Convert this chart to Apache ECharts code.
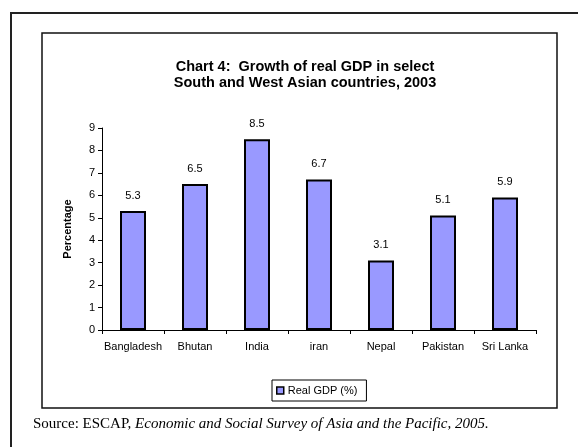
<!DOCTYPE html>
<html>
<head>
<meta charset="utf-8">
<script src="https://cdn.jsdelivr.net/npm/echarts@6/dist/echarts.min.js"></script>
<style>
html,body{margin:0;padding:0;background:#fff;}
#c{width:578px;height:447px;}
</style>
</head>
<body>
<div id="c"></div>
<script>
const categories = ['Bangladesh', 'Bhutan', 'India', 'iran', 'Nepal', 'Pakistan', 'Sri Lanka'];
const realGdp = [5.3, 6.5, 8.5, 6.7, 3.1, 5.1, 5.9];
const seriesName = 'Real GDP (%)';
const titleLines = ['Chart 4:  Growth of real GDP in select', 'South and West Asian countries, 2003'];
const yAxisName = 'Percentage';

const chart = echarts.init(document.getElementById('c'), null, {renderer: 'canvas'});
const sans = 'Liberation Sans, Arial, sans-serif';
const serif = 'Liberation Serif, Times New Roman, serif';
chart.setOption({
  backgroundColor: '#fff',
  animation: false,
  title: {
    text: titleLines.join('\n'),
    left: 300,
    top: 54,
    textAlign: 'center',
    textStyle: {fontFamily: sans, fontSize: 14.5, fontWeight: 'bold', color: '#000', lineHeight: 16}
  },
  legend: {
    left: 272,
    top: 380,
    data: [seriesName],
    icon: 'rect',
    itemWidth: 7,
    itemHeight: 7,
    itemGap: 4,
    padding: [5, 9, 5, 4],
    borderColor: '#000',
    borderWidth: 1,
    textStyle: {fontFamily: sans, fontSize: 11, color: '#000', padding: [0, 0, 0, -1]},
    itemStyle: {borderColor: '#000', borderWidth: 1.5}
  },
  grid: {left: 102, right: 42, top: 128, bottom: 117, containLabel: false},
  xAxis: {
    type: 'category',
    data: categories,
    boundaryGap: true,
    axisLine: {lineStyle: {color: '#000', width: 1}},
    axisTick: {show: true, length: 4, lineStyle: {color: '#000'}},
    axisLabel: {fontFamily: sans, fontSize: 11, color: '#000', margin: 11, interval: 0},
    splitLine: {show: false}
  },
  yAxis: {
    type: 'value',
    min: 0,
    max: 9,
    interval: 1,
    name: yAxisName,
    nameLocation: 'middle',
    nameGap: 29,
    nameTextStyle: {fontFamily: sans, fontSize: 11, fontWeight: 'bold', color: '#000'},
    axisLine: {show: true, lineStyle: {color: '#000', width: 1}},
    axisTick: {show: true, length: 4, lineStyle: {color: '#000'}},
    axisLabel: {fontFamily: sans, fontSize: 11, color: '#000', margin: 7},
    splitLine: {show: false}
  },
  series: [{
    name: seriesName,
    type: 'bar',
    data: realGdp,
    barWidth: 26,
    itemStyle: {color: '#9999FF', borderColor: '#000', borderWidth: 2},
    label: {show: true, position: 'top', distance: 10, fontFamily: sans, fontSize: 11, color: '#000'}
  }],
  graphic: [
    {type: 'rect', silent: true, shape: {x: 11, y: 13, width: 700, height: 700},
     style: {fill: 'none', stroke: '#222', lineWidth: 2}},
    {type: 'rect', silent: true, shape: {x: 42, y: 33, width: 515, height: 375},
     style: {fill: 'none', stroke: '#111', lineWidth: 1.5}},
    {type: 'text', silent: true, x: 33, y: 424,
     style: {
       text: '{n|Source: ESCAP, }{i|Economic and Social Survey of Asia and the Pacific, 2005.}',
       verticalAlign: 'middle',
       rich: {
         n: {fontFamily: serif, fontSize: 15, fill: '#000'},
         i: {fontFamily: serif, fontSize: 15, fontStyle: 'italic', fill: '#000'}
       }
     }}
  ]
});
</script>
</body>
</html>
